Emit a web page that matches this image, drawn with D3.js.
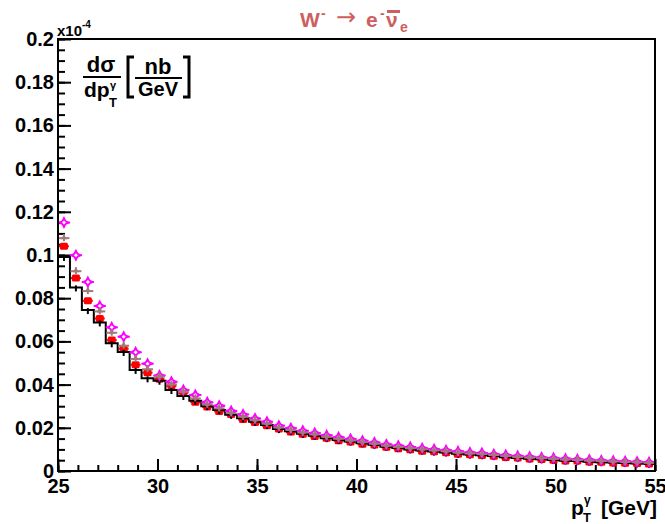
<!DOCTYPE html>
<html><head><meta charset="utf-8">
<script src="https://cdn.jsdelivr.net/npm/d3@7"></script>
<style>
body{margin:0;background:#fff}
svg{display:block}
text{font-family:"Liberation Sans",Arial,Helvetica,sans-serif;font-weight:bold}
</style>
</head><body>
<svg id="c" width="665" height="524"></svg>
<script>
// ---- data (values in units of 1e-4 nb/GeV) ----
const binCenters = [25.3,25.9,26.5,27.1,27.7,28.3,28.9,29.5,30.1,30.7,31.3,31.9,32.5,33.1,33.7,34.3,34.9,35.5,36.1,36.7,37.3,37.9,38.5,39.1,39.7,40.3,40.9,41.5,42.1,42.7,43.3,43.9,44.5,45.1,45.7,46.3,46.9,47.5,48.1,48.7,49.3,49.9,50.5,51.1,51.7,52.3,52.9,53.5,54.1,54.7];
const binHalfWidth = 0.3;
const histBlack = [0.0991,0.0850,0.0745,0.0688,0.0591,0.0551,0.0468,0.0429,0.0418,0.0375,0.0347,0.0325,0.0300,0.0282,0.0260,0.0244,0.0228,0.0213,0.0194,0.0184,0.0172,0.0163,0.0152,0.0143,0.0136,0.0128,0.0121,0.0112,0.0106,0.0100,0.0095,0.0090,0.0086,0.0080,0.0076,0.0073,0.0069,0.0064,0.0060,0.0057,0.0054,0.0051,0.0048,0.0046,0.0043,0.0041,0.0039,0.0037,0.0035,0.0033];
const seriesRed = [0.1040,0.0893,0.0788,0.0706,0.0606,0.0566,0.0492,0.0455,0.0425,0.0394,0.0362,0.0318,0.0296,0.0276,0.0262,0.0238,0.0224,0.0210,0.0195,0.0180,0.0170,0.0160,0.0152,0.0140,0.0134,0.0124,0.0120,0.0110,0.0103,0.0098,0.0092,0.0089,0.0085,0.0077,0.0075,0.0072,0.0068,0.0062,0.0060,0.0055,0.0053,0.0050,0.0046,0.0046,0.0042,0.0040,0.0037,0.0036,0.0035,0.0032];
const seriesGray = [0.1078,0.0925,0.0833,0.0739,0.0640,0.0580,0.0519,0.0471,0.0437,0.0401,0.0367,0.0336,0.0308,0.0290,0.0268,0.0251,0.0235,0.0219,0.0201,0.0190,0.0178,0.0169,0.0158,0.0149,0.0141,0.0133,0.0126,0.0117,0.0111,0.0105,0.0100,0.0095,0.0091,0.0085,0.0081,0.0078,0.0074,0.0069,0.0065,0.0062,0.0059,0.0056,0.0053,0.0051,0.0048,0.0046,0.0044,0.0042,0.0040,0.0038];
const seriesMagenta = [0.1150,0.0999,0.0875,0.0764,0.0665,0.0622,0.0550,0.0497,0.0442,0.0413,0.0375,0.0352,0.0318,0.0302,0.0278,0.0262,0.0243,0.0228,0.0210,0.0198,0.0186,0.0176,0.0165,0.0156,0.0148,0.0140,0.0132,0.0123,0.0117,0.0111,0.0105,0.0101,0.0096,0.0091,0.0086,0.0083,0.0078,0.0074,0.0070,0.0066,0.0063,0.0060,0.0057,0.0054,0.0052,0.0049,0.0047,0.0045,0.0043,0.0041];
const xTicks = [25,30,35,40,45,50,55];
const xTickLabels = ["25","30","35","40","45","50","55"];
const yTicks = [0,0.02,0.04,0.06,0.08,0.1,0.12,0.14,0.16,0.18,0.2];
const yTickLabels = ["0","0.02","0.04","0.06","0.08","0.1","0.12","0.14","0.16","0.18","0.2"];

// ---- layout ----
const L = 58, R = 655, T = 39, B = 471;
const svg = d3.select("#c");
const x = d3.scaleLinear().domain([25,55]).range([L,R]);
const y = d3.scaleLinear().domain([0,0.2]).range([B,T]);
const titleColor = "#cf5e61", grayColor = "#a07a7c", magenta = "#ff00ff";
const FONT = '"Liberation Sans",Arial,sans-serif';

// axes
const gx = svg.append("g").attr("transform",`translate(0,${B})`);
gx.call(d3.axisBottom(x).tickValues(d3.range(25,56,1)).tickSizeInner(-6).tickSizeOuter(0).tickFormat(""));
gx.selectAll("line").attr("stroke","#000").attr("stroke-width",2);
const gx2 = svg.append("g").attr("transform",`translate(0,${B})`);
gx2.call(d3.axisBottom(x).tickValues(xTicks).tickSizeInner(-12).tickSizeOuter(0).tickPadding(8)
  .tickFormat((d,i)=>xTickLabels[i]));
gx2.selectAll("line").attr("stroke","#000").attr("stroke-width",2);
gx2.selectAll("text").attr("font-size",20).attr("fill","#000")
  .style("font-family",FONT).style("font-weight","bold");

const gy = svg.append("g").attr("transform",`translate(${L},0)`);
gy.call(d3.axisLeft(y).tickValues(d3.range(0,41).map(i=>i*0.005)).tickSizeInner(-7).tickSizeOuter(0).tickFormat(""));
gy.selectAll("line").attr("stroke","#000").attr("stroke-width",2);
const gy2 = svg.append("g").attr("transform",`translate(${L},0)`);
gy2.call(d3.axisLeft(y).tickValues(yTicks).tickSizeInner(-13).tickSizeOuter(0).tickPadding(4)
  .tickFormat((d,i)=>yTickLabels[i]));
gy2.selectAll("line").attr("stroke","#000").attr("stroke-width",2);
gy2.selectAll("text").attr("font-size",20).attr("fill","#000")
  .style("font-family",FONT).style("font-weight","bold");
svg.selectAll(".domain").remove();

// data layer
const plot = svg.append("g");

// red squares
plot.selectAll(".redbar").data(binCenters).join("line").attr("class","redbar")
  .attr("x1",d=>x(d-binHalfWidth)+1).attr("x2",d=>x(d+binHalfWidth)-1)
  .attr("y1",(d,i)=>y(seriesRed[i])).attr("y2",(d,i)=>y(seriesRed[i]))
  .attr("stroke","#ff0000").attr("stroke-width",2);
plot.selectAll(".red").data(binCenters).join("rect").attr("class","red")
  .attr("x",d=>x(d)-4).attr("y",(d,i)=>y(seriesRed[i])-3.5)
  .attr("width",8).attr("height",7).attr("rx",1.5).attr("fill","#ff0000");

// black histogram
const stepPts = binCenters.map((c,i)=>[c-binHalfWidth, histBlack[i]]);
stepPts.push([binCenters[binCenters.length-1]+binHalfWidth, histBlack[histBlack.length-1]]);
plot.append("path").datum(stepPts)
  .attr("d", d3.line().x(d=>x(d[0])).y(d=>y(d[1])).curve(d3.curveStepAfter))
  .attr("fill","none").attr("stroke","#000").attr("stroke-width",2);
plot.selectAll(".blkerr").data(binCenters).join("line").attr("class","blkerr")
  .attr("x1",d=>x(d)).attr("x2",d=>x(d))
  .attr("y1",(d,i)=>y(histBlack[i])-2).attr("y2",(d,i)=>y(histBlack[i])+4)
  .attr("stroke","#000").attr("stroke-width",2);

// magenta markers (4-point star with open centre)
const mg = plot.selectAll(".mag").data(binCenters).join("g").attr("class","mag")
  .attr("transform",(d,i)=>`translate(${x(d)},${y(seriesMagenta[i])})`);
mg.append("line").attr("x1",-6).attr("x2",6).attr("y1",0).attr("y2",0).attr("stroke",magenta).attr("stroke-width",2);
mg.append("path").attr("d","M0,-6.5L2.2,-2.2L6.5,0L2.2,2.2L0,6.5L-2.2,2.2L-6.5,0L-2.2,-2.2Z").attr("fill",magenta);
mg.append("path").attr("d","M0,-2L2,0L0,2L-2,0Z").attr("fill","#fff");

// gray markers
const gg = plot.selectAll(".gry").data(binCenters).join("g").attr("class","gry")
  .attr("transform",(d,i)=>`translate(${x(d)},${y(seriesGray[i])})`);
gg.append("line").attr("x1",(d)=>x(d-binHalfWidth)-x(d)+0.5).attr("x2",(d)=>x(d+binHalfWidth)-x(d)-0.5)
  .attr("y1",0).attr("y2",0).attr("stroke",grayColor).attr("stroke-width",2);
gg.append("line").attr("x1",0).attr("x2",0).attr("y1",-4).attr("y2",3).attr("stroke",grayColor).attr("stroke-width",2);
gg.append("path").attr("d","M0,-4L3,1L-3,1Z").attr("fill",grayColor);

// frame
svg.append("rect").attr("x",L).attr("y",T).attr("width",R-L).attr("height",B-T)
  .attr("fill","none").attr("stroke","#000").attr("stroke-width",2);

// exponent label
const ex = svg.append("text").attr("x",57).attr("y",36).attr("font-size",15).attr("fill","#000");
ex.append("tspan").text("x10");
ex.append("tspan").attr("font-size",10).attr("dy",-8).text("-4");

// title
const tg = svg.append("g").attr("fill",titleColor);
tg.append("text").attr("x",300).attr("y",27).attr("font-size",21).text("W");
tg.append("text").attr("x",321).attr("y",18).attr("font-size",14).text("-");
tg.append("text").attr("x",336).attr("y",25).attr("font-size",24).style("font-family",'"DejaVu Sans",sans-serif').style("font-weight","normal").text("→");
tg.append("text").attr("x",366).attr("y",27).attr("font-size",21).text("e");
tg.append("text").attr("x",380).attr("y",18).attr("font-size",14).text("-");
tg.append("text").attr("x",386).attr("y",27).attr("font-size",21).text("ν");
tg.append("line").attr("x1",387).attr("x2",400).attr("y1",11.5).attr("y2",11.5).attr("stroke",titleColor).attr("stroke-width",3);
tg.append("text").attr("x",400).attr("y",32).attr("font-size",14).text("e");

// y-axis title
const yt = svg.append("g").attr("fill","#000");
yt.append("text").attr("x",101).attr("y",72).attr("font-size",22).attr("text-anchor","middle").text("dσ");
yt.append("line").attr("x1",83).attr("x2",121).attr("y1",77).attr("y2",77).attr("stroke","#000").attr("stroke-width",2);
yt.append("text").attr("x",84).attr("y",97).attr("font-size",21).text("dp");
yt.append("text").attr("x",109).attr("y",107).attr("font-size",13).text("T");
yt.append("text").attr("x",110).attr("y",89).attr("font-size",11).text("γ");
yt.append("path").attr("d","M134,57L128,57L128,97L134,97").attr("fill","none").attr("stroke","#000").attr("stroke-width",3);
yt.append("text").attr("x",158).attr("y",74).attr("font-size",22).attr("text-anchor","middle").text("nb");
yt.append("line").attr("x1",135).attr("x2",182).attr("y1",78).attr("y2",78).attr("stroke","#000").attr("stroke-width",2);
yt.append("text").attr("x",158).attr("y",96).attr("font-size",20).attr("text-anchor","middle").text("GeV");
yt.append("path").attr("d","M183,57L189,57L189,97L183,97").attr("fill","none").attr("stroke","#000").attr("stroke-width",3);

// x-axis title
const xt = svg.append("g").attr("fill","#000");
xt.append("text").attr("x",571).attr("y",515).attr("font-size",21).text("p");
xt.append("text").attr("x",583).attr("y",522).attr("font-size",13).text("T");
xt.append("text").attr("x",584).attr("y",504).attr("font-size",12).text("γ");
xt.append("text").attr("x",657).attr("y",515).attr("font-size",21).attr("text-anchor","end").text("[GeV]");
</script>
</body></html>
